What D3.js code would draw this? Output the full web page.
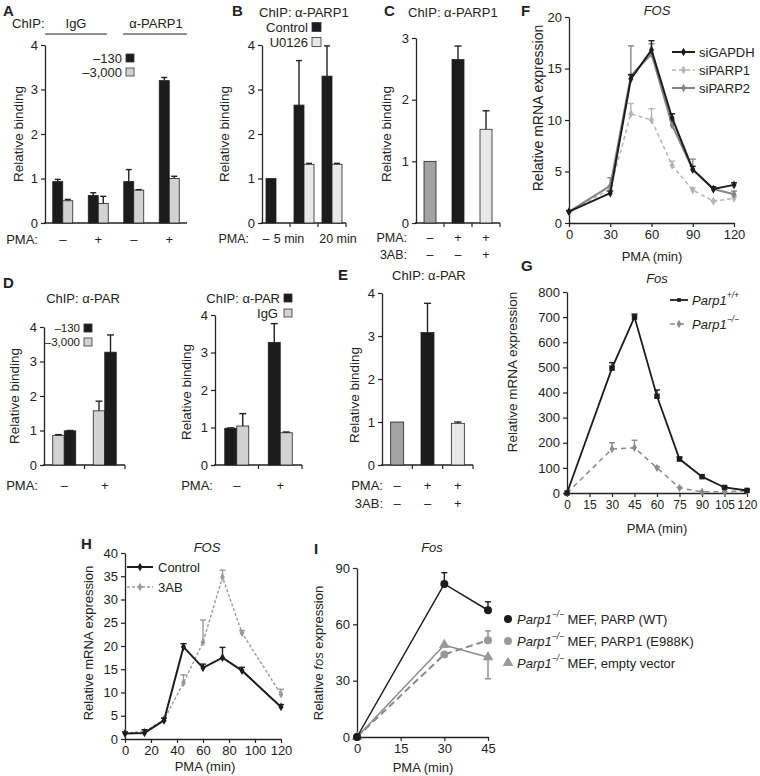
<!DOCTYPE html>
<html><head><meta charset="utf-8">
<script src="https://cdn.jsdelivr.net/npm/d3@7"></script>
<style>
body{margin:0;background:#fff}
svg{display:block}
text{font-family:"Liberation Sans",Arial,sans-serif;fill:#222}
</style>
</head><body>
<svg id="c" width="760" height="776"></svg>
<script>
// ---------------- DATA ----------------
// Panel A (ChIP IgG / α-PARP1)
const aPMA = ["–", "+", "–", "+"];
const aLegend = ["–130", "–3,000"];
const aNeg130 = [0.93, 0.62, 0.93, 3.2];
const aNeg130Err = [0.05, 0.06, 0.27, 0.07];
const aNeg3000 = [0.5, 0.44, 0.74, 1.0];
const aNeg3000Err = [0.03, 0.16, 0.01, 0.05];
const binTicks4 = [0, 1, 2, 3, 4];
const binTicks3 = [0, 1, 2, 3];

// Panel B
const bPMA = ["–", "5 min", "20 min"];
const bLegend = ["Control", "U0126"];
const bControl = [1.0, 2.65, 3.3];
const bControlErr = [0, 1.0, 0.68];
const bU0126 = [null, 1.32, 1.32];
const bU0126Err = [0, 0.02, 0.02];

// Panel C
const cPMA = ["–", "+", "+"];
const c3AB = ["–", "–", "+"];
const cVals = [1.0, 2.65, 1.52];
const cErr = [0, 0.22, 0.3];

// Panel D left
const dPMA = ["–", "+"];
const dLLegend = ["–130", "–3,000"];
const dLNeg3000 = [0.86, 1.57];
const dLNeg3000Err = [0.02, 0.28];
const dLNeg130 = [0.99, 3.27];
const dLNeg130Err = [0.01, 0.5];
// Panel D right
const dRLegend = ["ChIP: α-PAR", "IgG"];
const dRPAR = [0.98, 3.27];
const dRPARErr = [0.01, 0.5];
const dRIgG = [1.04, 0.86];
const dRIgGErr = [0.33, 0.02];

// Panel E
const ePMA = ["–", "+", "+"];
const e3AB = ["–", "–", "+"];
const eVals = [1.0, 3.08, 0.97];
const eErr = [0, 0.68, 0.03];

// Panel F (FOS, PMA min)
const fTime = [0, 30, 45, 60, 75, 90, 105, 120];
const fSiGAPDH = [1.1, 2.9, 14.0, 16.8, 10.2, 5.2, 3.3, 3.7];
const fSiGAPDHErr = [0.1, 0.2, 0.4, 0.9, 0.4, 0.3, 0.2, 0.2];
const fSiPARP1 = [1.1, 3.3, 10.6, 10.0, 5.6, 3.2, 2.1, 2.4];
const fSiPARP1Err = [0.1, 0.3, 1.0, 1.1, 0.4, 0.2, 0.1, 0.2];
const fSiPARP2 = [1.1, 3.6, 14.3, 16.4, 9.5, 5.2, 3.3, 2.8];
const fSiPARP2Err = [0.1, 0.8, 2.9, 1.0, 0.5, 1.0, 0.2, 0.3];
const fLegend = ["siGAPDH", "siPARP1", "siPARP2"];
const fXTicks = [0, 30, 60, 90, 120];
const fYTicks = [0, 5, 10, 15, 20];

// Panel G (Fos)
const gTimeWT = [0, 30, 45, 60, 75, 90, 105, 120];
const gWT = [0, 497, 700, 385, 135, 65, 22, 10];
const gWTErr = [0, 22, 12, 25, 8, 5, 3, 3];
const gTimeKO = [0, 30, 45, 60, 75, 90, 105, 120];
const gKO = [0, 175, 180, 100, 20, 5, 5, 8];
const gKOErr = [0, 25, 30, 5, 3, 0, 0, 0];
const gXTicks = [0, 15, 30, 45, 60, 75, 90, 105, 120];
const gYTicks = [0, 100, 200, 300, 400, 500, 600, 700, 800];

// Panel H (FOS, Control vs 3AB)
const hTime = [0, 15, 30, 45, 60, 75, 90, 120];
const hControl = [1.2, 1.3, 4.0, 19.8, 15.3, 17.5, 14.7, 6.9];
const hControlErr = [0.3, 0.7, 0.5, 0.7, 0.8, 2.2, 0.7, 0.5];
const h3AB = [1.3, 1.6, 4.1, 12.1, 20.8, 34.8, 22.8, 9.6];
const h3ABErr = [0.2, 0.4, 0.4, 1.7, 4.8, 1.5, 0.5, 1.1];
const hLegend = ["Control", "3AB"];
const hXTicks = [0, 20, 40, 60, 80, 100, 120];
const hYTicks = [0, 5, 10, 15, 20, 25, 30, 35, 40];

// Panel I (Fos expression in MEFs)
const iTime = [0, 30, 45];
const iWT = [0, 81.5, 67.5];
const iWTErr = [0, 6, 4.5];
const iE988K = [0, 44, 51.5];
const iE988KErr = [0, 0, 5];
const iEmpty = [0, 49, 42.5];
const iEmptyErr = [0, 0, -11.5];
const iXTicks = [0, 15, 30, 45];
const iYTicks = [0, 30, 60, 90];
const iLegend = ["MEF, PARP (WT)", "MEF, PARP1 (E988K)", "MEF, empty vector"];

// ---------------- DRAWING ----------------
const svg = d3.select("#c");
svg.append("rect").attr("width", 760).attr("height", 776).attr("fill", "#fff");
const TXT = "#222";
const BLACK = "#1c1c1c", LIGHT = "#d2d2d2", MID = "#a3a3a3", PALE = "#e8e8e8";

function text(x, y, s, opt = {}) {
  const t = svg.append("text").attr("x", x).attr("y", y).text(s)
    .attr("font-size", opt.size || 13).attr("text-anchor", opt.anchor || "start")
    .attr("dominant-baseline", "central").attr("fill", TXT);
  if (opt.italic) t.attr("font-style", "italic");
  if (opt.weight) t.attr("font-weight", opt.weight);
  if (opt.family) t.attr("font-family", opt.family);
  if (opt.rotate) t.attr("transform", `rotate(-90,${x},${y})`);
  return t;
}
function letter(x, y, s) {
  text(x, y, s, {size: 15, weight: "bold", family: "'Liberation Serif',serif"});
}
function styleAxis(a, fs) {
  a.select(".domain").attr("stroke", TXT).attr("stroke-width", 1.3);
  a.selectAll(".tick line").attr("stroke", TXT).attr("stroke-width", 1.2);
  a.selectAll(".tick text").attr("font-size", fs || 13).attr("fill", TXT)
    .attr("font-family", "'Liberation Sans',Arial,sans-serif");
}
function errorBar(g, cx, yFrom, yTo, cap, color) {
  g.append("line").attr("x1", cx).attr("x2", cx).attr("y1", yFrom).attr("y2", yTo)
    .attr("stroke", color || TXT).attr("stroke-width", 1.4);
  g.append("line").attr("x1", cx - cap / 2).attr("x2", cx + cap / 2).attr("y1", yTo).attr("y2", yTo)
    .attr("stroke", color || TXT).attr("stroke-width", 1.4);
}
function square(x, y, fill, s) {
  svg.append("rect").attr("x", x).attr("y", y - s / 2).attr("width", s).attr("height", s)
    .attr("fill", fill).attr("stroke", "#333").attr("stroke-width", 0.8);
}

function barPanel(o) {
  const x = d3.scaleBand().domain(d3.range(o.n)).range([o.x0, o.x1]);
  const y = d3.scaleLinear().domain([0, o.yMax]).range([o.y0, o.yTop]);
  const g = svg.append("g");
  const ya = g.append("g").attr("transform", `translate(${o.x0},0)`)
    .call(d3.axisLeft(y).tickValues(o.yTicks).tickSize(4).tickSizeOuter(0).tickFormat(d3.format("d")));
  styleAxis(ya);
  g.append("line").attr("x1", o.x0 - 1).attr("x2", o.x1).attr("y1", o.y0).attr("y2", o.y0)
    .attr("stroke", TXT).attr("stroke-width", 1.3);
  if (o.xTicks) {
    for (let i = 1; i <= o.n; i++) {
      const xx = i < o.n ? x(i) : o.x1;
      g.append("line").attr("x1", xx).attr("x2", xx).attr("y1", o.y0).attr("y2", o.y0 + 4)
        .attr("stroke", TXT).attr("stroke-width", 1.2);
    }
  }
  const bw = o.barW, ns = o.series.length;
  o.series.forEach((s, si) => {
    s.vals.forEach((v, i) => {
      if (v == null) return;
      const cx = x(i) + x.bandwidth() / 2 + (si - (ns - 1) / 2) * bw;
      const fill = Array.isArray(s.fill) ? s.fill[i] : s.fill;
      g.append("rect").attr("x", cx - bw / 2).attr("y", y(v)).attr("width", bw)
        .attr("height", o.y0 - y(v)).attr("fill", fill).attr("stroke", "#222").attr("stroke-width", 0.8);
      const e = s.errs ? s.errs[i] : 0;
      if (e) errorBar(g, cx, y(v), y(v + e), Math.min(7, bw * 0.6));
    });
  });
  (o.rows || []).forEach(r => {
    text(o.rowLabelX, o.y0 + r.dy, r.label, {anchor: "end", size: o.rowSize || 13});
    r.vals.forEach((s, i) => {
      const cx = (r.shift ? r.shift[i] : 0) + x(i) + x.bandwidth() / 2;
      text(cx, o.y0 + r.dy, s, {anchor: "middle", size: o.rowSize || 13});
    });
  });
  return {x, y};
}

const SYM = {
  diamond: d3.symbolDiamond, square: d3.symbolSquare, circle: d3.symbolCircle,
  triangle: d3.symbolTriangle, cross: d3.symbolCross
};
function marker(g, cx, cy, s) {
  if (!s.marker) return;
  g.append("path").attr("d", d3.symbol().type(SYM[s.marker]).size(s.msize || 20)())
    .attr("transform", `translate(${cx},${cy})`).attr("fill", s.mfill || s.color).attr("stroke", "none");
}
function linePanel(o) {
  const x = d3.scaleLinear().domain([0, o.xMax]).range([o.x0, o.x1]);
  const y = d3.scaleLinear().domain([0, o.yMax]).range([o.y0, o.yTop]);
  const g = svg.append("g");
  const ya = g.append("g").attr("transform", `translate(${o.x0},0)`)
    .call(d3.axisLeft(y).tickValues(o.yTicks).tickSize(4).tickSizeOuter(0));
  styleAxis(ya, o.fs);
  const xa = g.append("g").attr("transform", `translate(0,${o.y0})`)
    .call(d3.axisBottom(x).tickValues(o.xTicks).tickSize(4).tickSizeOuter(0));
  styleAxis(xa, o.fsx || o.fs);
  o.series.forEach(s => {
    s.xs.forEach((xv, i) => {
      const e = s.errs ? s.errs[i] : 0;
      if (e) errorBar(g, x(xv), y(s.ys[i]), y(s.ys[i] + e), 6, s.ecolor || s.color);
    });
    g.append("path").attr("d", d3.line()(s.xs.map((xv, i) => [x(xv), y(s.ys[i])])))
      .attr("fill", "none").attr("stroke", s.color).attr("stroke-width", s.width || 1.8)
      .attr("stroke-dasharray", s.dash || null);
    s.xs.forEach((xv, i) => marker(g, x(xv), y(s.ys[i]), s));
  });
  return {x, y, g};
}
function legendLine(x1, x2, y, s) {
  svg.append("line").attr("x1", x1).attr("x2", x2).attr("y1", y).attr("y2", y)
    .attr("stroke", s.color).attr("stroke-width", s.width || 1.8).attr("stroke-dasharray", s.dash || null);
  marker(svg, (x1 + x2) / 2, y, s);
}
function parpText(x, y, sup, rest, size) {
  size = size || 13;
  const t = svg.append("text").attr("x", x).attr("y", y).attr("dominant-baseline", "central")
    .attr("font-size", size).attr("fill", TXT);
  t.append("tspan").attr("font-style", "italic").text("Parp1");
  t.append("tspan").attr("font-style", "italic").attr("font-size", size * 0.65).attr("dy", -5).text(sup);
  t.append("tspan").attr("dy", 5).text(rest);
  return t;
}

// ---- Panel A ----
letter(3, 10, "A");
text(12, 23, "ChIP:");
text(76, 23, "IgG", {anchor: "middle"});
text(156, 23, "α-PARP1", {anchor: "middle"});
svg.append("line").attr("x1", 45).attr("x2", 107).attr("y1", 34).attr("y2", 34).attr("stroke", TXT).attr("stroke-width", 1.2);
svg.append("line").attr("x1", 123).attr("x2", 187).attr("y1", 34).attr("y2", 34).attr("stroke", TXT).attr("stroke-width", 1.2);
barPanel({x0: 45, x1: 187, y0: 223, yTop: 45, yMax: 4, yTicks: binTicks4, n: 4, barW: 10,
  series: [{vals: aNeg130, errs: aNeg130Err, fill: BLACK}, {vals: aNeg3000, errs: aNeg3000Err, fill: LIGHT}],
  rows: [{dy: 16, label: "PMA:", vals: aPMA}], rowLabelX: 38});
text(122, 58, aLegend[0], {anchor: "end"}); square(126, 58, BLACK, 8);
text(122, 72, aLegend[1], {anchor: "end"}); square(126, 72, LIGHT, 8);
text(18, 134, "Relative binding", {anchor: "middle", rotate: true, size: 13.5});

// ---- Panel B ----
letter(232, 10, "B");
text(259, 12, "ChIP: α-PARP1");
barPanel({x0: 262, x1: 346, y0: 223, yTop: 45, yMax: 4, yTicks: binTicks4, n: 3, barW: 10, xTicks: true,
  series: [{vals: bControl, errs: bControlErr, fill: BLACK}, {vals: bU0126, errs: bU0126Err, fill: PALE}],
  rows: [{dy: 16, label: "PMA:", vals: bPMA, shift: [-10, -15, 6]}], rowLabelX: 249, rowSize: 12.5});
text(308, 27, bLegend[0], {anchor: "end"}); square(312, 27, BLACK, 9);
text(308, 42, bLegend[1], {anchor: "end"}); square(312, 42, PALE, 9);
text(224, 134, "Relative binding", {anchor: "middle", rotate: true, size: 13.5});

// ---- Panel C ----
letter(384, 10, "C");
text(408, 12, "ChIP: α-PARP1");
barPanel({x0: 416, x1: 500, y0: 223, yTop: 38, yMax: 3, yTicks: binTicks3, n: 3, barW: 12, xTicks: true,
  series: [{vals: cVals, errs: cErr, fill: [MID, BLACK, PALE]}],
  rows: [{dy: 15, label: "PMA:", vals: cPMA}, {dy: 32, label: "3AB:", vals: c3AB}], rowLabelX: 407, rowSize: 12.5});
text(386, 134, "Relative binding", {anchor: "middle", rotate: true, size: 13.5});

// ---- Panel D ----
letter(3, 282, "D");
text(83, 298, "ChIP: α-PAR", {anchor: "middle"});
barPanel({x0: 44, x1: 125, y0: 465, yTop: 327, yMax: 4, yTicks: binTicks4, n: 2, barW: 11.5, xTicks: true,
  series: [{vals: dLNeg3000, errs: dLNeg3000Err, fill: LIGHT}, {vals: dLNeg130, errs: dLNeg130Err, fill: BLACK}],
  rows: [{dy: 20, label: "PMA:", vals: dPMA}], rowLabelX: 38});
text(80, 328, dLLegend[0], {anchor: "end", size: 11.5}); square(84, 328, BLACK, 8);
text(80, 342, dLLegend[1], {anchor: "end", size: 11.5}); square(84, 342, LIGHT, 8);
text(14, 396, "Relative binding", {anchor: "middle", rotate: true, size: 13.5});

barPanel({x0: 215, x1: 302, y0: 465, yTop: 315, yMax: 4, yTicks: binTicks4, n: 2, barW: 12, xTicks: true,
  series: [{vals: dRPAR, errs: dRPARErr, fill: BLACK}, {vals: dRIgG, errs: dRIgGErr, fill: LIGHT}],
  rows: [{dy: 20, label: "PMA:", vals: dPMA}], rowLabelX: 213});
text(280, 298, dRLegend[0], {anchor: "end"}); square(284, 298, BLACK, 8);
text(278, 313, dRLegend[1], {anchor: "end"}); square(284, 313, LIGHT, 8);
text(186, 392, "Relative binding", {anchor: "middle", rotate: true, size: 13.5});

// ---- Panel E ----
letter(338, 274, "E");
text(392, 275, "ChIP: α-PAR");
barPanel({x0: 382, x1: 473, y0: 465, yTop: 293, yMax: 4, yTicks: binTicks4, n: 3, barW: 13, xTicks: true,
  series: [{vals: eVals, errs: eErr, fill: [MID, BLACK, PALE]}],
  rows: [{dy: 20, label: "PMA:", vals: ePMA}, {dy: 38, label: "3AB:", vals: e3AB}], rowLabelX: 383});
text(354, 395, "Relative binding", {anchor: "middle", rotate: true, size: 13.5});

// ---- Panel F ----
letter(521, 10, "F");
text(657, 10, "FOS", {anchor: "middle", italic: true});
const fS = [
  {xs: fTime, ys: fSiGAPDH, errs: fSiGAPDHErr, color: BLACK, width: 2, marker: "diamond", msize: 22},
  {xs: fTime, ys: fSiPARP1, errs: fSiPARP1Err, color: "#b5b5b5", width: 1.5, dash: "4,3", marker: "diamond", msize: 22},
  {xs: fTime, ys: fSiPARP2, errs: fSiPARP2Err, color: "#858585", width: 2, marker: "diamond", msize: 22}
];
linePanel({x0: 569, x1: 734, xMax: 120, xTicks: fXTicks, y0: 223, yTop: 17, yMax: 20, yTicks: fYTicks,
  series: [fS[1], fS[2], fS[0]]});
fLegend.forEach((l, i) => {
  legendLine(672, 695, 52 + i * 18, fS[i]);
  text(699, 52 + i * 18, l);
});
text(652, 256, "PMA (min)", {anchor: "middle"});
text(538, 108, "Relative mRNA expression", {anchor: "middle", rotate: true, size: 14});

// ---- Panel G ----
letter(521, 265, "G");
text(657, 278, "Fos", {anchor: "middle", italic: true});
const gS = [
  {xs: gTimeWT, ys: gWT, errs: gWTErr, color: BLACK, width: 1.8, marker: "square", msize: 30},
  {xs: gTimeKO, ys: gKO, errs: gKOErr, color: "#8a8a8a", width: 1.5, dash: "5,4", marker: "diamond", msize: 20}
];
linePanel({x0: 567, x1: 747, xMax: 120, xTicks: gXTicks, y0: 493, yTop: 292, yMax: 800, yTicks: gYTicks,
  fs: 13, fsx: 12, series: [gS[1], gS[0]]});
legendLine(670, 688, 300, Object.assign({}, gS[0], {msize: 14}));
parpText(692, 300, "+/+", "");
legendLine(670, 688, 324, gS[1]);
parpText(692, 324, "−/−", "");
text(657, 528, "PMA (min)", {anchor: "middle"});
text(512, 372, "Relative mRNA expression", {anchor: "middle", rotate: true, size: 13.5});

// ---- Panel H ----
letter(81, 543, "H");
text(207, 547, "FOS", {anchor: "middle", italic: true});
const hS = [
  {xs: hTime, ys: hControl, errs: hControlErr, color: BLACK, width: 2, marker: "diamond", msize: 22},
  {xs: hTime, ys: h3AB, errs: h3ABErr, color: "#9a9a9a", width: 1.4, dash: "3,2", marker: "diamond", msize: 20}
];
linePanel({x0: 125, x1: 281, xMax: 120, xTicks: hXTicks, y0: 739, yTop: 553, yMax: 40, yTicks: hYTicks,
  series: [hS[1], hS[0]]});
hLegend.forEach((l, i) => {
  legendLine(127, 153, 567 + i * 20, hS[i]);
  text(158, 567 + i * 20, l);
});
text(205, 766, "PMA (min)", {anchor: "middle"});
text(88, 643, "Relative mRNA expression", {anchor: "middle", rotate: true});

// ---- Panel I ----
letter(314, 548, "I");
text(432, 547, "Fos", {anchor: "middle", italic: true});
const iS = [
  {xs: iTime, ys: iWT, errs: iWTErr, color: BLACK, width: 1.5, marker: "circle", msize: 50},
  {xs: iTime, ys: iE988K, errs: iE988KErr, color: "#8a8a8a", width: 2, dash: "7,4", marker: "circle", msize: 50, mfill: "#999"},
  {xs: iTime, ys: iEmpty, errs: iEmptyErr, color: "#8a8a8a", width: 1.5, marker: "triangle", msize: 50, mfill: "#999"}
];
linePanel({x0: 357, x1: 488, xMax: 45, xTicks: iXTicks, y0: 737, yTop: 568, yMax: 90, yTicks: iYTicks,
  series: [iS[2], iS[1], iS[0]]});
iLegend.forEach((l, i) => {
  const yy = 619 + i * 22;
  marker(svg, 508, yy, iS[i]);
  parpText(517, yy, "−/−", " " + l);
});
text(423, 767, "PMA (min)", {anchor: "middle"});
const il = svg.append("text").attr("x", 318).attr("y", 653).attr("text-anchor", "middle")
  .attr("dominant-baseline", "central").attr("font-size", 13).attr("fill", TXT)
  .attr("transform", "rotate(-90,318,653)");
il.append("tspan").text("Relative ");
il.append("tspan").attr("font-style", "italic").text("fos");
il.append("tspan").text(" expression");
</script>
</body></html>
